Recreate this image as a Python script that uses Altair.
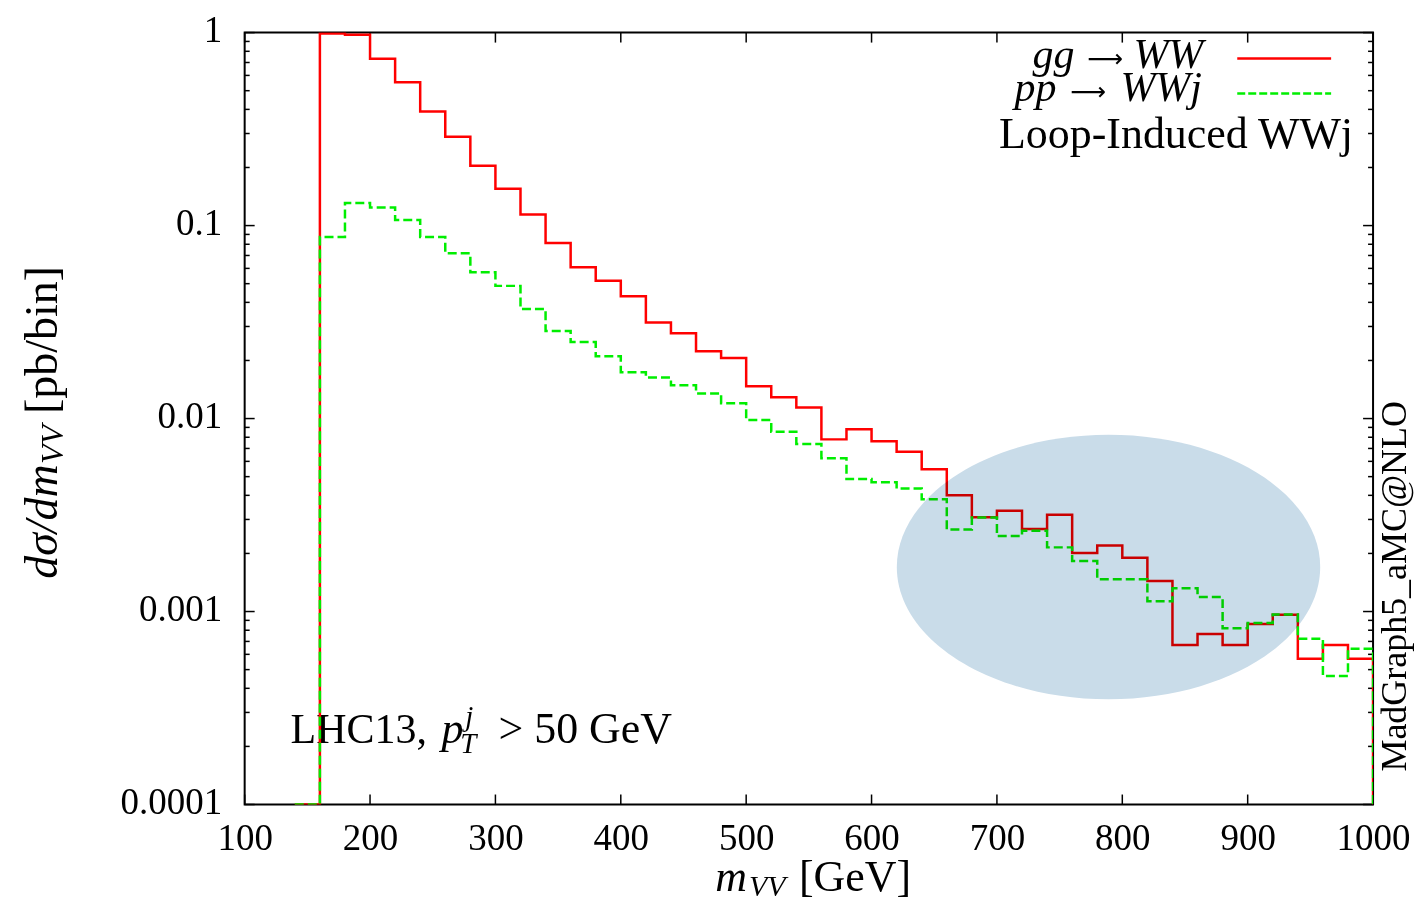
import altair as alt
import pandas as pd

# ---------------- data ----------------
mass = [140, 160, 180, 200, 220, 240, 260, 280, 300, 320, 340, 360, 380, 400,
        420, 440, 460, 480, 500, 520, 540, 560, 580, 600, 620, 640, 660, 680,
        700, 720, 740, 760, 780, 800, 820, 840, 860, 880, 900, 920, 940, 960,
        980, 1000]

gg_ww = [1e-4, 0.99, 0.975, 0.731, 0.553, 0.390, 0.289, 0.204, 0.155, 0.114,
         0.0812, 0.0608, 0.0517, 0.0430, 0.0315, 0.0277, 0.0223, 0.0206,
         0.0147, 0.0129, 0.0114, 0.0078, 0.00879, 0.00762, 0.00673, 0.00546,
         0.00401, 0.00308, 0.00333, 0.00268, 0.00317, 0.00201, 0.00220,
         0.00190, 0.00144, 0.00067, 0.000764, 0.00067, 0.000861, 0.000962,
         0.000569, 0.00067, 0.000569, 1e-4]

pp_wwj = [1e-4, 0.0872, 0.131, 0.124, 0.107, 0.0872, 0.0718, 0.0573, 0.0487,
          0.0370, 0.0284, 0.0249, 0.0210, 0.0174, 0.0163, 0.0149, 0.0135,
          0.0120, 0.00982, 0.00855, 0.00738, 0.00622, 0.00486, 0.00468,
          0.00434, 0.00382, 0.00266, 0.00307, 0.00246, 0.00262, 0.00215,
          0.00183, 0.00147, 0.00147, 0.00113, 0.00132, 0.00119, 0.00082,
          0.000871, 0.000966, 0.000723, 0.000463, 0.000641, 1e-4]

x_ticks = [100, 200, 300, 400, 500, 600, 700, 800, 900, 1000]
y_ticks = [1, 0.1, 0.01, 0.001, 0.0001]
decades = [0.0001, 0.001, 0.01, 0.1]
minor_mult = [2, 3, 4, 5, 6, 7, 8, 9]
y_minor = [m * d for d in decades for m in minor_mult]

ellipse_mass = [789]
ellipse_value = [0.0017]

# ---------------- styling ----------------
SERIF = "Liberation Serif"
W, H = 1130, 773
RED = "#ff0000"
GREEN = "#00ee00"

df_gg = pd.DataFrame({"mass": mass, "value": gg_ww})
df_pp = pd.DataFrame({"mass": mass, "value": pp_wwj})
df_xt = pd.DataFrame({"mass": x_ticks})
df_ymaj = pd.DataFrame({"value": y_ticks})
df_ymin = pd.DataFrame({"value": y_minor})
df_ell = pd.DataFrame({"mass": ellipse_mass, "value": ellipse_value})
one = pd.DataFrame({"a": [0]})

xscale = alt.Scale(domain=[100, 1000], nice=False, zero=False)
yscale = alt.Scale(type="log", domain=[0.0001, 1], nice=False)

xaxis = alt.Axis(values=x_ticks, title=None, grid=False, ticks=False, tickSize=0,
                 domain=False, labelFont=SERIF, labelFontSize=37, format="d",
                 labelColor="black", labelBaseline="alphabetic",
                 labelPadding=45, labelFlush=False, labelOverlap=False)
yaxis = alt.Axis(values=y_ticks, title=None, grid=False, ticks=False, tickSize=0,
                 domain=False, labelFont=SERIF, labelFontSize=37,
                 labelColor="black", labelPadding=23, format="~g",
                 labelOffset=-2, labelFlush=False, labelOverlap=False)


def X():
    return alt.X("mass:Q", scale=xscale, axis=xaxis)


def Y():
    return alt.Y("value:Q", scale=yscale, axis=yaxis)


def txt(s, x, y, size=40, italic=False, align="left", angle=0, font=SERIF):
    return alt.Chart(one).mark_text(
        text=s, font=font, fontSize=size,
        fontStyle="italic" if italic else "normal",
        align=align, baseline="alphabetic", angle=angle, color="black"
    ).encode(x=alt.value(x), y=alt.value(y))


ARROW_FONT = "DejaVu Sans"

texts = [
    # LHC13 label
    txt("LHC13,", 46, 711, 42),
    txt("p", 197, 711, 44, italic=True),
    txt("j", 221, 694, 29, italic=True),
    txt("T", 216, 721, 29, italic=True),
    txt("> 50 GeV", 428, 711, 44, align="right"),
    # legend texts
    txt("gg", 831, 35, 42, italic=True, align="right"),
    txt("⟶", 862, 34, 25, align="center", font=ARROW_FONT),
    txt("WW", 890, 35, 42, italic=True),
    txt("pp", 813, 68, 42, italic=True, align="right"),
    txt("⟶", 845, 67, 25, align="center", font=ARROW_FONT),
    txt("WWj", 877, 68, 42, italic=True),
    txt("Loop-Induced WWj", 1110, 116, 44, align="right"),
    # right-side vertical label
    txt("MadGraph5_aMC@NLO", 1163, 740, 36, angle=270),
    # x title
    txt("m", 503, 860, 44, italic=True, align="right"),
    txt("VV", 505, 865, 30, italic=True),
    txt("[GeV]", 555, 860, 44),
    # y title
    txt("dσ/dm", -188, 547, 46, italic=True, angle=270),
    txt("VV", -182, 432, 32, italic=True, angle=270),
    txt("[pb/bin]", -188, 382, 46, angle=270),
]

# tick rules (inward, mirrored)
ticks = [
    alt.Chart(df_ymaj).mark_rule(color="black", strokeWidth=1.5).encode(
        y=Y(), x=alt.value(0), x2=alt.value(10)),
    alt.Chart(df_ymaj).mark_rule(color="black", strokeWidth=1.5).encode(
        y=Y(), x=alt.value(W), x2=alt.value(W - 10)),
    alt.Chart(df_ymin).mark_rule(color="black", strokeWidth=1.5).encode(
        y=Y(), x=alt.value(0), x2=alt.value(5)),
    alt.Chart(df_ymin).mark_rule(color="black", strokeWidth=1.5).encode(
        y=Y(), x=alt.value(W), x2=alt.value(W - 5)),
    alt.Chart(df_xt).mark_rule(color="black", strokeWidth=1.5).encode(
        x=X(), y=alt.value(H), y2=alt.value(H - 10)),
    alt.Chart(df_xt).mark_rule(color="black", strokeWidth=1.5).encode(
        x=X(), y=alt.value(0), y2=alt.value(10)),
]

line_gg = alt.Chart(df_gg).mark_line(
    interpolate="step-after", color=RED, strokeWidth=2.5, clip=True
).encode(x=X(), y=Y(), order="mass:Q")

line_pp = alt.Chart(df_pp).mark_line(
    interpolate="step-after", color=GREEN, strokeWidth=2.5, strokeDash=[9, 4], clip=True
).encode(x=X(), y=Y(), order="mass:Q")

legend_lines = [
    alt.Chart(one).mark_rule(color=RED, strokeWidth=2.5).encode(
        x=alt.value(994), x2=alt.value(1088), y=alt.value(26)),
    alt.Chart(one).mark_rule(color=GREEN, strokeWidth=2.5, strokeDash=[8, 3]).encode(
        x=alt.value(994), x2=alt.value(1088), y=alt.value(61)),
]

ELLIPSE = "M -1 0 A 1 0.625 0 1 0 1 0 A 1 0.625 0 1 0 -1 0 Z"
ellipse = alt.Chart(df_ell).mark_point(
    shape=ELLIPSE, size=424 * 424, filled=True, color="#c9dce9", opacity=1,
    strokeWidth=0, blend="multiply"
).encode(x=X(), y=Y())

chart = alt.layer(
    *texts, *ticks, line_gg, line_pp, *legend_lines, ellipse
).properties(
    width=W, height=H,
    autosize=alt.AutoSizeParams(type="none"),
    padding={"left": 237, "top": 24, "right": 42, "bottom": 96},
    background="white",
).configure_view(stroke="black", strokeWidth=2)

chart.save("out.html", embed_options={"renderer": "svg", "actions": False})
